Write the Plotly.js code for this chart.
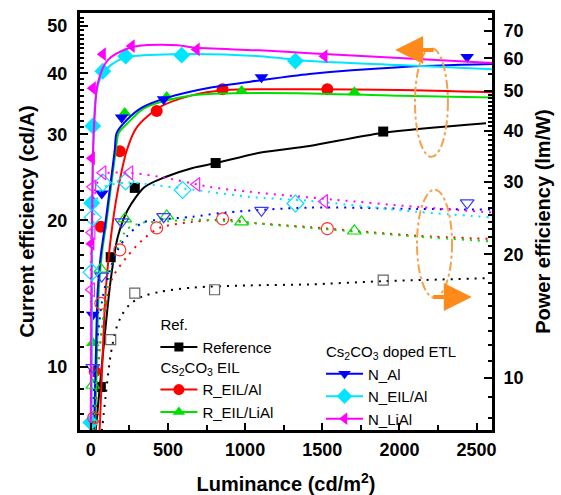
<!DOCTYPE html>
<html><head><meta charset="utf-8">
<script src="https://cdn.plot.ly/plotly-3.0.1.min.js"></script>
<style>html,body{margin:0;padding:0;background:#fff}#chart{width:561px;height:495px}</style>
</head><body><div id="chart"></div>
<script>
// ---- Current efficiency (cd/A), filled markers ----
const refCE_x = [65,129,285,809,1895];
const refCE_y = [9.1,16.8,23.3,26.2,30.4];
const refCEfit_x = [22,32,78,129,175,239,349,479,660,815,1093,1417,1889,2561];
const refCEfit_y = [6.9,7.43,10.6,15.1,18.5,21.0,23.4,24.5,25.6,26.2,27.5,28.4,30.2,31.6];

const rAlCE_x = [26,65,188,427,854,1533];
const rAlCE_y = [9.8,19.4,27.7,33.5,37.1,37.1];
const rAlCEfit_x = [54,78,97,136,175,233,298,446,660,880,1417,1999,2600];
const rAlCEfit_y = [7.0,10.8,14.4,19.1,23.0,27.8,31.0,34.1,36.1,37.0,37.1,37.0,36.6];

const rLiCE_x = [13,220,492,977,1708];
const rLiCE_y = [11.2,33.2,35.8,36.8,36.6];
const rLiCEfit_x = [26,39,52,71,103,162,181,233,336,446,660,880,1417,2000,2600];
const rLiCEfit_y = [7.0,10.3,14.4,17.0,20.0,27.8,30.2,31.5,33.8,34.9,36.1,36.4,36.4,36.0,35.7];

const nAlCE_x = [13,71,200,472,1106,2439];
const nAlCE_y = [12.8,22.7,32.5,35.4,39.3,43.2];
const nAlCEfit_x = [19,32,45,65,97,155,168,233,336,511,770,1093,1417,1999,2600];
const nAlCEfit_y = [7.0,10.3,14.4,17.0,20.0,27.8,30.2,32.1,34.1,35.8,37.4,38.7,39.9,41.2,41.8];

const nEilCE_x = [0,6,13,78,226,589,1326];
const nEilCE_y = [7.7,21.7,31.2,40.4,43.4,43.6,42.4];
const nEilCEfit_x = [5,8,14,32,65,129,239,563,1093,1417,1999,2600];
const nEilCEfit_y = [7.0,13.7,26.6,35.8,39.3,41.6,43.2,43.8,43.4,42.4,41.6,40.8];

const nLiCE_x = [4,7,13,78,265,686,1514];
const nLiCE_y = [17.9,26.8,37.3,43.8,45.5,44.8,43.4];
const nLiCEfit_x = [0,3,13,26,45,110,239,349,563,660,1093,1417,1999,2600];
const nLiCEfit_y = [7.0,13.7,26.6,33.2,38.2,42.6,45.0,45.7,45.7,45.2,44.6,44.0,43.0,42.0];

// ---- Power efficiency (lm/W), open markers ----
const refPE_x = [129,285,802,1895];
const refPE_y = [12.4,16.1,16.4,17.3];
const refPEfit_x = [66,97,129,162,200,252,336,446,660,1028,1417,1889,2581];
const refPEfit_y = [7.1,9.09,11.4,13.1,14.2,15.1,15.8,16.2,16.6,16.8,16.9,17.2,17.5];

const rAlPE_x = [19,65,188,427,854,1533];
const rAlPE_y = [8.0,15.2,20.5,23.2,24.4,23.1];
const rAlPEfit_x = [22,58,103,142,233,336,446,660,880,1028,1417,2109,2600];
const rAlPEfit_y = [7.1,11.9,15.5,17.6,19.7,21.7,23.2,24.0,24.3,23.9,23.3,22.2,21.8];

const rLiPE_x = [13,65,220,492,977,1708];
const rLiPE_y = [9.6,18.4,24.4,24.8,24.0,22.8];
const rLiPEfit_x = [10,39,71,103,142,188,233,336,446,660,880,1417,2109,2600];
const rLiPEfit_y = [7.1,9.9,13.1,16.4,19.1,21.3,23.0,23.9,24.0,24.3,24.1,23.2,22.1,21.5];

const nAlPE_x = [13,71,200,472,1106,2439];
const nAlPE_y = [10.6,17.7,24.0,24.7,25.6,26.7];
const nAlPEfit_x = [3,39,78,123,175,233,336,446,660,880,1417,2109,2600];
const nAlPEfit_y = [7.1,11.9,15.8,18.3,20.5,22.1,23.9,24.3,24.7,25.3,26.0,25.8,25.7];

const nEilPE_x = [6,13,78,226,595,1326];
const nEilPE_y = [18.1,24.6,29.9,30.1,28.7,26.6];
const nEilPEfit_x = [5,6,13,39,78,233,446,770,1028,1417,2109,2600];
const nEilPEfit_y = [7.1,15.5,23.0,27.2,29.1,29.9,29.4,28.4,27.6,27.0,25.4,24.6];

const nLiPE_x = [4,7,12,78,252,686,1514];
const nLiPE_y = [16.4,22.6,29.2,31.6,31.6,29.6,26.9];
const nLiPEfit_x = [0,1,6,26,78,233,446,770,1028,1566,2109,2600];
const nLiPEfit_y = [7.1,15.5,23.0,28.7,31.3,31.6,30.9,29.2,28.4,27.2,26.1,25.3];

// ---- tick labels ----
const xTicks = [0,500,1000,1500,2000,2500];
const yLeftTicks = [10,20,30,40,50];
const yRightTicks = [10,20,30,40,50,60,70];

const series = [
  {name:'Reference', color:'#000000', openColor:'#666666', sym:'square', size:10,
   ce:[refCE_x,refCE_y], cefit:[refCEfit_x,refCEfit_y], pe:[refPE_x,refPE_y], pefit:[refPEfit_x,refPEfit_y],
   legend:'legend', group:'ref', gtitle:'Ref.'},
  {name:'R_EIL/Al', color:'#ff0000', openColor:'#ff3030', sym:'circle', size:12,
   ce:[rAlCE_x,rAlCE_y], cefit:[rAlCEfit_x,rAlCEfit_y], pe:[rAlPE_x,rAlPE_y], pefit:[rAlPEfit_x,rAlPEfit_y],
   legend:'legend2', group:'eil', gtitle:'Cs<sub>2</sub>CO<sub>3</sub> EIL'},
  {name:'R_EIL/LiAl', color:'#00e000', openColor:'#00dd00', sym:'triangle-up', size:12,
   ce:[rLiCE_x,rLiCE_y], cefit:[rLiCEfit_x,rLiCEfit_y], pe:[rLiPE_x,rLiPE_y], pefit:[rLiPEfit_x,rLiPEfit_y],
   legend:'legend2', group:'eil', gtitle:'Cs<sub>2</sub>CO<sub>3</sub> EIL'},
  {name:'N_Al', color:'#0000ff', openColor:'#3a3aff', sym:'triangle-down', size:12,
   ce:[nAlCE_x,nAlCE_y], cefit:[nAlCEfit_x,nAlCEfit_y], pe:[nAlPE_x,nAlPE_y], pefit:[nAlPEfit_x,nAlPEfit_y],
   legend:'legend3', group:'etl', gtitle:'Cs<sub>2</sub>CO<sub>3</sub> doped ETL'},
  {name:'N_EIL/Al', color:'#00e5ff', openColor:'#00e0ff', sym:'diamond', size:13,
   ce:[nEilCE_x,nEilCE_y], cefit:[nEilCEfit_x,nEilCEfit_y], pe:[nEilPE_x,nEilPE_y], pefit:[nEilPEfit_x,nEilPEfit_y],
   legend:'legend3', group:'etl', gtitle:'Cs<sub>2</sub>CO<sub>3</sub> doped ETL'},
  {name:'N_LiAl', color:'#ff00ff', openColor:'#ff20ff', sym:'triangle-left', size:12,
   ce:[nLiCE_x,nLiCE_y], cefit:[nLiCEfit_x,nLiCEfit_y], pe:[nLiPE_x,nLiPE_y], pefit:[nLiPEfit_x,nLiPEfit_y],
   legend:'legend3', group:'etl', gtitle:'Cs<sub>2</sub>CO<sub>3</sub> doped ETL'}
];

const F = 'Arial, Liberation Sans, sans-serif';
const traces = [];
series.forEach(s => {
  traces.push({x:s.pefit[0], y:s.pefit[1], yaxis:'y2', mode:'lines', line:{color:s.color, width:2, dash:'2px,6px', shape:'spline', smoothing:0.8}, showlegend:false, hoverinfo:'skip'});
  traces.push({x:s.pe[0], y:s.pe[1], yaxis:'y2', mode:'markers', marker:{symbol:s.sym+'-open', size:s.size, color:s.openColor, line:{width:1.2}}, showlegend:false});
});
series.forEach(s => {
  traces.push({x:s.cefit[0], y:s.cefit[1], yaxis:'y', mode:'lines', line:{color:s.color, width:2, shape:'spline', smoothing:0.8}, showlegend:false, hoverinfo:'skip'});
  traces.push({x:s.ce[0], y:s.ce[1], yaxis:'y', mode:'markers', marker:{symbol:s.sym, size:s.size, color:s.color}, showlegend:false});
});
series.forEach(s => {
  traces.push({x:[null], y:[null], mode:'lines+markers', name:s.name, legend:s.legend, legendgroup:s.group,
    legendgrouptitle:{text:s.gtitle, font:{size:15, family:F, color:'#000'}},
    line:{color:s.color, width:2}, marker:{symbol:s.sym, size:s.size-1, color:s.color}});
});

function range(a,b,step){const r=[];for(let v=a;v<=b+1e-9;v+=step)r.push(+v.toFixed(3));return r;}
const yLeftMinor = range(7,53,1);
const yRightMinor = range(7,50,1).concat([55,65,75]);

const legendBase = {xanchor:'left', yanchor:'top', bgcolor:'rgba(0,0,0,0)', borderwidth:0,
  traceorder:'grouped', tracegroupgap:0, itemwidth:37, font:{family:F, size:15, color:'#000'}};
const layout = {
  width:561, height:495,
  margin:{l:80, r:69, t:13, b:65},
  paper_bgcolor:'#fff', plot_bgcolor:'#fff',
  showlegend:true,
  xaxis:{range:[-70,2600], tickvals:xTicks, ticktext:xTicks.map(String), ticks:'inside', ticklen:7, tickwidth:2, tickcolor:'#000',
    minor:{dtick:250, tick0:0, ticks:'inside', ticklen:5, tickwidth:2, tickcolor:'#000'},
    showline:true, linewidth:3, linecolor:'#000', mirror:true, showgrid:false, zeroline:false,
    ticklabelstandoff:1,
    tickfont:{family:F, size:18, weight:'bold', color:'#000'},
    title:{text:'Luminance (cd/m<sup>2</sup>)', font:{family:F, size:20, weight:'bold', color:'#000'}, standoff:19}},
  yaxis:{type:'log', range:[Math.log10(7.43), Math.log10(53.2)], tickvals:yLeftTicks, ticktext:yLeftTicks.map(String),
    ticks:'inside', ticklen:8, tickwidth:2, tickcolor:'#000',
    minor:{tickvals:yLeftMinor, ticks:'inside', ticklen:4, tickwidth:2, tickcolor:'#000'},
    showline:true, linewidth:3, linecolor:'#000', showgrid:false, zeroline:false,
    ticklabelstandoff:6,
    tickfont:{family:F, size:18, weight:'bold', color:'#000'},
    title:{text:'Current efficiency (cd/A)', font:{family:F, size:20, weight:'bold', color:'#000'}, standoff:8}},
  yaxis2:{type:'log', overlaying:'y', side:'right', range:[Math.log10(7.47), Math.log10(77.4)], tickvals:yRightTicks, ticktext:yRightTicks.map(String),
    ticks:'inside', ticklen:8, tickwidth:2, tickcolor:'#000',
    minor:{tickvals:yRightMinor, ticks:'inside', ticklen:4, tickwidth:2, tickcolor:'#000'},
    showline:true, linewidth:3, linecolor:'#000', showgrid:false, zeroline:false,
    ticklabelstandoff:5,
    tickfont:{family:F, size:18, weight:'bold', color:'#000'},
    title:{text:'Power efficiency (lm/W)', font:{family:F, size:20, weight:'bold', color:'#000'}, standoff:14}},
  legend: Object.assign({}, legendBase, {x:0.183, y:0.292}),
  legend2: Object.assign({}, legendBase, {x:0.183, y:0.19}),
  legend3: Object.assign({}, legendBase, {x:0.585, y:0.228}),
  shapes:[
    {type:'circle', xref:'paper', yref:'paper', x0:0.813, x1:0.893, y0:0.655, y1:0.916, line:{color:'#f5a24e', width:2, dash:'dashdot'}},
    {type:'circle', xref:'paper', yref:'paper', x0:0.818, x1:0.903, y0:0.317, y1:0.576, line:{color:'#f5a24e', width:2, dash:'dashdot'}}
  ],
  annotations:[
    {xref:'paper', yref:'paper', x:0.765, y:0.911, ax:40, ay:0, text:'', showarrow:true, arrowhead:2, arrowsize:1.4, arrowwidth:4, arrowcolor:'#ff8a1c'},
    {xref:'paper', yref:'paper', x:0.951, y:0.319, ax:-40, ay:0, text:'', showarrow:true, arrowhead:2, arrowsize:1.4, arrowwidth:4, arrowcolor:'#ff8a1c'}
  ]
};
Plotly.newPlot('chart', traces, layout, {displayModeBar:false, staticPlot:true});
</script></body></html>
